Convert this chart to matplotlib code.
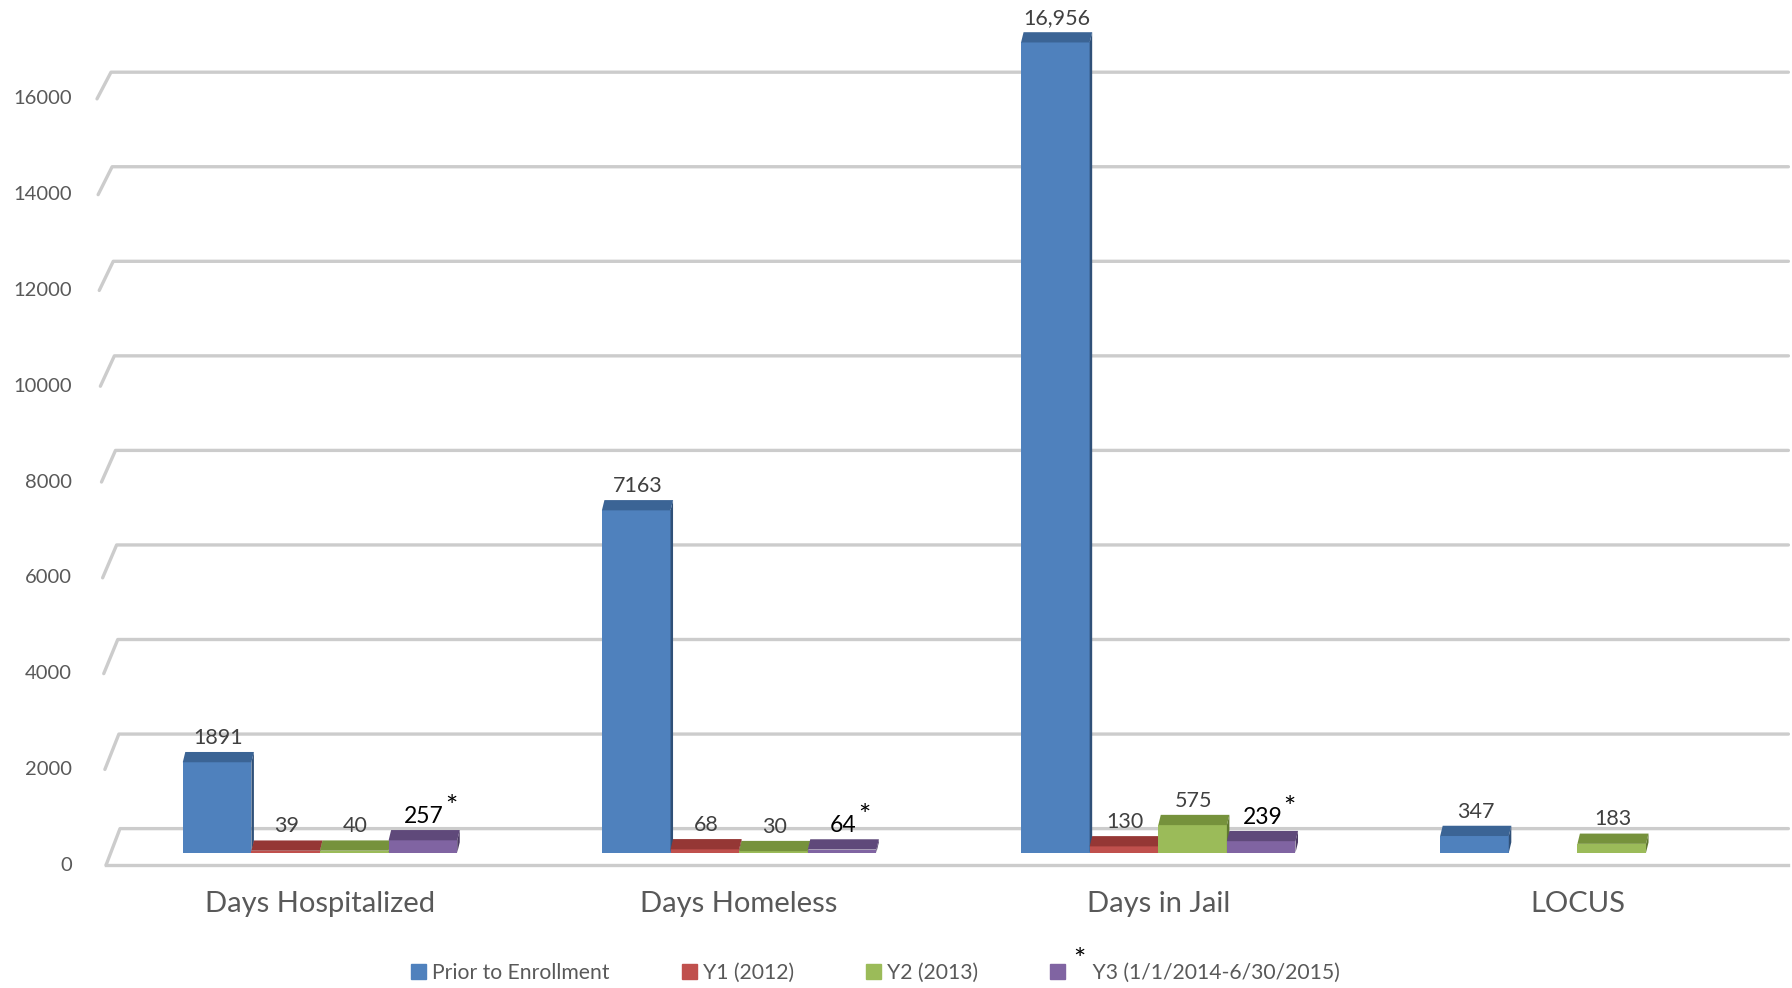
import matplotlib
matplotlib.use("Agg")
import matplotlib.pyplot as plt
from matplotlib.patches import Polygon, Rectangle
from matplotlib.transforms import blended_transform_factory, IdentityTransform

# ---- data ----
categories = ["Days Hospitalized", "Days Homeless", "Days in Jail", "LOCUS"]
series_names = ["Prior to Enrollment", "Y1 (2012)", "Y2 (2013)", "Y3 (1/1/2014-6/30/2015)"]
prior = [1891, 7163, 16956, 347]
y1 = [39, 68, 130, None]
y2 = [40, 30, 575, 183]
y3 = [257, 64, 239, None]
yticks = [0, 2000, 4000, 6000, 8000, 10000, 12000, 14000, 16000]

front_cols = ["#4f81bd", "#c0504d", "#9bbb59", "#8064a2"]
top_cols = ["#3b6495", "#953735", "#76923c", "#5f497a"]
side_cols = ["#2f5078", "#7a2c2a", "#5f7730", "#4b3a62"]

plt.rcParams["font.family"] = ["Lato", "DejaVu Sans"]

fig = plt.figure(figsize=(17.92, 9.88), dpi=100)
ax = fig.add_axes([0, 0, 1, 1])
ax.axis("off")
ax.set_xlim(-0.7635, 3.512)
ax.set_ylim(-2834, 17845)

W = 0.1637      # bar width in category units
DV = 215        # depth of top face (value units)
DX = 0.006      # depth shift to the right
bx = blended_transform_factory(ax.transAxes, ax.transData)

# floor / gridlines with the slanted left edge
for v in yticks:
    yf = v * 1.0025 - 264
    yb = v * 0.9895 + 502
    xb = (106 - 9 * v / 16000) / 1792
    xt = (120 - 9 * v / 16000) / 1792
    ax.plot([xb, xt, 0.998], [yf, yb, yb], color="#cccccc", lw=2.4,
            transform=bx, zorder=1, solid_capstyle="round")
    ax.text(0.0402, yf, str(v), transform=bx, ha="right", va="center",
            fontsize=14.5, color="#595959")
ax.plot([106 / 1792, 0.998], [-264, -264], color="#cccccc", lw=2.4,
        transform=bx, zorder=1)

# bars
all_series = [prior, y1, y2, y3]
for si, vals in enumerate(all_series):
    offs = (si - 1.5) * W
    xs = [i + offs for i in range(len(categories)) if vals[i] is not None]
    hs = [vals[i] for i in range(len(categories)) if vals[i] is not None]
    ax.bar(xs, hs, width=W, color=front_cols[si], zorder=3 + si, linewidth=0)
    for x, h in zip(xs, hs):
        x0, x1 = x - W / 2, x + W / 2
        ax.add_patch(Polygon([(x1, 0), (x1, h), (x1 + DX, h + DV), (x1 + DX, DV)],
                             closed=True, color=side_cols[si], lw=0, zorder=3 + si))
        ax.add_patch(Polygon([(x0, h), (x1, h), (x1 + DX, h + DV), (x0 + DX, h + DV)],
                             closed=True, color=top_cols[si], lw=0, zorder=3 + si))
        lab = f"{h:,}" if h > 10000 else str(h)
        if si == 3:
            t = ax.annotate(lab, (x + DX / 2, h + DV), xytext=(0, 2),
                            textcoords="offset points", ha="center", va="bottom",
                            fontsize=16.5, color="black", zorder=10)
            ax.annotate("*", xy=(1, 1), xycoords=t, xytext=(1, -1),
                        textcoords="offset points", ha="left", va="center",
                        fontsize=21, color="black", zorder=10)
        else:
            ax.annotate(lab, (x + DX / 2, h + DV), xytext=(0, 3),
                        textcoords="offset points", ha="center", va="bottom",
                        fontsize=15.5, color="#404040", zorder=10)

# category labels
cx = blended_transform_factory(ax.transData, ax.transAxes)
for i, c in enumerate(categories):
    ax.text(i, 1 - 904 / 988, c, transform=cx, ha="center", va="center",
            fontsize=21, color="#595959")

# legend
handles = [Rectangle((0, 0), 1, 1, color=c) for c in front_cols]
labels = series_names[:3] + ["    " + series_names[3]]
leg = ax.legend(handles, labels, loc="center", bbox_to_anchor=(0.4886, 0.0155),
                ncol=4, frameon=False, fontsize=15.2, handlelength=0.7,
                handleheight=0.7, handletextpad=0.3, columnspacing=3.4,
                labelcolor="#595959")

# asterisk above the Y3 legend entry, placed after layout is known
fig.canvas.draw()
bb = leg.get_texts()[3].get_window_extent()
fig.text(bb.x0 + 8, bb.y1 + 2, "*", transform=IdentityTransform(),
         ha="center", va="center", fontsize=21, color="black")

fig.savefig("out.png", dpi=100)
